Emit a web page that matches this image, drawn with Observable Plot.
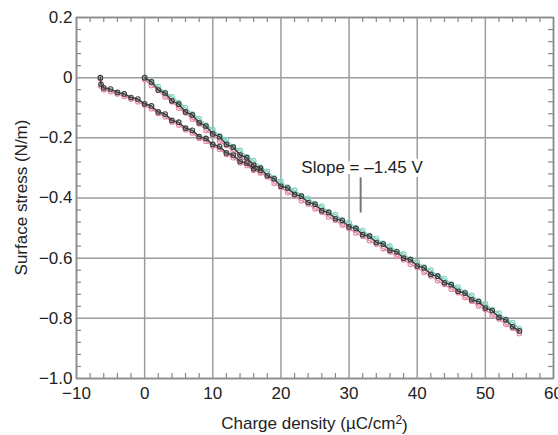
<!DOCTYPE html>
<html><head><meta charset="utf-8">
<script src="https://cdn.jsdelivr.net/npm/d3@7"></script>
<script src="https://cdn.jsdelivr.net/npm/@observablehq/plot@0.6"></script>
<style>body{margin:0;background:#fff;}</style>
</head><body><div id="chart"></div>
<script>
// ---- tick values and labels ----
const xTicks = [-10, 0, 10, 20, 30, 40, 50, 60];
const xTickLabels = ["−10", "0", "10", "20", "30", "40", "50", "60"];
const yTicks = [-1.0, -0.8, -0.6, -0.4, -0.2, 0, 0.2];
const yTickLabels = ["−1.0", "−0.8", "−0.6", "−0.4", "−0.2", "0", "0.2"];
const xMinor = [-8, -6, -4, -2, 2, 4, 6, 8, 12, 14, 16, 18, 22, 24, 26, 28, 32, 34, 36, 38, 42, 44, 46, 48, 52, 54, 56, 58];
const yMinor = [-0.96, -0.92, -0.88, -0.84, -0.76, -0.72, -0.68, -0.64, -0.56, -0.52, -0.48, -0.44, -0.36, -0.32, -0.28, -0.24, -0.16, -0.12, -0.08, -0.04, 0.04, 0.08, 0.12, 0.16];

// ---- branch starting at 0 µC/cm² ----
const xB = [0,1,2,3,4,5,6,7,8,9,10,11,12,13,14,15,16,17,18,19,20,21,22,23,24,25,26,27,28,29,30,31,32,33,34,35,36,37,38,39,40,41,42,43,44,45,46,47,48,49,50,51,52,53,54,55];
const yDarkB = [0,-0.014,-0.041,-0.051,-0.077,-0.088,-0.114,-0.124,-0.150,-0.161,-0.187,-0.196,-0.222,-0.231,-0.257,-0.266,-0.291,-0.301,-0.326,-0.336,-0.361,-0.367,-0.388,-0.394,-0.415,-0.421,-0.442,-0.448,-0.469,-0.475,-0.496,-0.501,-0.522,-0.527,-0.548,-0.553,-0.574,-0.579,-0.600,-0.605,-0.626,-0.632,-0.654,-0.660,-0.682,-0.688,-0.710,-0.716,-0.738,-0.744,-0.766,-0.774,-0.797,-0.805,-0.828,-0.842];
const yTealB = [-0.004,-0.012,-0.030,-0.049,-0.064,-0.083,-0.100,-0.121,-0.136,-0.158,-0.172,-0.193,-0.207,-0.229,-0.242,-0.263,-0.276,-0.298,-0.311,-0.333,-0.345,-0.364,-0.374,-0.392,-0.401,-0.419,-0.428,-0.446,-0.455,-0.473,-0.482,-0.499,-0.508,-0.525,-0.534,-0.551,-0.560,-0.577,-0.586,-0.603,-0.612,-0.630,-0.640,-0.658,-0.668,-0.686,-0.696,-0.714,-0.724,-0.742,-0.752,-0.772,-0.783,-0.803,-0.814,-0.834];
const yPinkB = [-0.006,-0.026,-0.042,-0.064,-0.080,-0.101,-0.117,-0.138,-0.153,-0.175,-0.190,-0.211,-0.225,-0.246,-0.260,-0.281,-0.294,-0.316,-0.329,-0.351,-0.364,-0.382,-0.393,-0.409,-0.420,-0.436,-0.447,-0.463,-0.474,-0.490,-0.501,-0.516,-0.527,-0.542,-0.553,-0.568,-0.579,-0.594,-0.605,-0.620,-0.631,-0.647,-0.659,-0.675,-0.687,-0.703,-0.715,-0.731,-0.743,-0.759,-0.771,-0.789,-0.802,-0.820,-0.833,-0.850];

// ---- branch starting at −6.5 µC/cm² ----
const xA = [-6.5,-6.4,-6,-5,-4,-3,-2,-1,0,1,2,3,4,5,6,7,8,9,10,11,12,13,14,15,16,17];
const yDarkA = [0,-0.022,-0.034,-0.038,-0.049,-0.054,-0.066,-0.071,-0.087,-0.094,-0.114,-0.121,-0.142,-0.148,-0.168,-0.175,-0.196,-0.202,-0.222,-0.229,-0.250,-0.257,-0.278,-0.284,-0.303,-0.308];
const yPinkA = [-0.004,-0.028,-0.040,-0.046,-0.054,-0.062,-0.071,-0.080,-0.092,-0.103,-0.119,-0.130,-0.147,-0.157,-0.173,-0.184,-0.201,-0.211,-0.227,-0.238,-0.255,-0.266,-0.283,-0.292,-0.308,-0.316];

// ---- annotation ----
const annotation = [{x: 23.0, y: -0.298, label: "Slope = –1.45 V"}];
const pointer = [{x: 31.7, y1: -0.333, y2: -0.45}];

const colors = {dark: "#394040", teal: "#7fd0c0", pink: "#e58aa0"};
const FONT = "'Liberation Sans', Arial, sans-serif";

const W = 558, H = 435, mL = 76, mR = 5, mT = 17, mB = 57;
const plotW = W - mL - mR, plotH = H - mT - mB;

const toRows = (xs, ys) => xs.map((x, i) => ({x, y: ys[i]}));
const series = [
  {rows: toRows(xB, yTealB), c: colors.teal, w: 1.4},
  {rows: toRows(xA, yPinkA), c: colors.pink, w: 1.4},
  {rows: toRows(xB, yPinkB), c: colors.pink, w: 1.4},
  {rows: toRows(xA, yDarkA), c: colors.dark, w: 1.5},
  {rows: toRows(xB, yDarkB), c: colors.dark, w: 1.5}
];

const traceMarks = series.flatMap(s => [
  Plot.line(s.rows, {x: "x", y: "y", stroke: s.c, strokeWidth: s.w}),
  Plot.dot(s.rows, {x: "x", y: "y", r: 2.3, stroke: s.c, strokeWidth: 1.1, fill: "none"})
]);

const chart = Plot.plot({
  width: W, height: H,
  marginLeft: mL, marginRight: mR, marginTop: mT, marginBottom: mB,
  style: {fontFamily: FONT, fontSize: "17px", color: "#222", background: "#fff", overflow: "visible"},
  x: {domain: [-10, 60]},
  y: {domain: [-1.0, 0.2]},
  marks: [
    Plot.gridX(xTicks, {stroke: "#9c9c9c", strokeOpacity: 1, strokeWidth: 1.5}),
    Plot.gridY(yTicks, {stroke: "#9c9c9c", strokeOpacity: 1, strokeWidth: 1.5}),
    Plot.tickX(xMinor, {x: d => d, insetTop: plotH - 5, stroke: "#888", strokeWidth: 1.2}),
    Plot.tickX(xMinor, {x: d => d, insetBottom: plotH - 5, stroke: "#888", strokeWidth: 1.2}),
    Plot.tickY(yMinor, {y: d => d, insetRight: plotW - 5, stroke: "#888", strokeWidth: 1.2}),
    Plot.tickY(yMinor, {y: d => d, insetLeft: plotW - 5, stroke: "#888", strokeWidth: 1.2}),
    Plot.frame({stroke: "#8c8c8c", strokeWidth: 1.6}),
    Plot.axisX(xTicks, {tickSize: 0, tickPadding: 8, label: null, fontSize: 17, fill: "#222",
      tickFormat: d => xTickLabels[xTicks.indexOf(d)]}),
    Plot.axisY(yTicks, {tickSize: 0, tickPadding: 4, label: null, fontSize: 17, fill: "#222",
      tickFormat: d => yTickLabels[yTicks.indexOf(d)]}),
    ...traceMarks,
    Plot.ruleX(pointer, {x: "x", y1: "y1", y2: "y2", stroke: "#777", strokeWidth: 2}),
    Plot.text(annotation, {x: "x", y: "y", text: "label", textAnchor: "start", fontSize: 17,
      fill: "#1e1e1e", stroke: "white", strokeWidth: 8})
  ]
});

const svg = d3.select(chart);
// y-axis title
svg.append("text")
  .attr("transform", `translate(21,${mT + plotH / 2}) rotate(-90)`)
  .attr("text-anchor", "middle").attr("dy", "0.35em")
  .attr("font-family", FONT).attr("font-size", 17).attr("fill", "#222")
  .text("Surface stress (N/m)");
// x-axis title with superscript
const xt = svg.append("text")
  .attr("x", mL + plotW / 2).attr("y", 429)
  .attr("text-anchor", "middle")
  .attr("font-family", FONT).attr("font-size", 17).attr("fill", "#222");
xt.append("tspan").text("Charge density (µC/cm");
xt.append("tspan").attr("dy", "-0.45em").attr("font-size", 12).text("2");
xt.append("tspan").attr("dy", "0.45em").text(")");

document.getElementById("chart").appendChild(chart);
</script>
</body></html>
